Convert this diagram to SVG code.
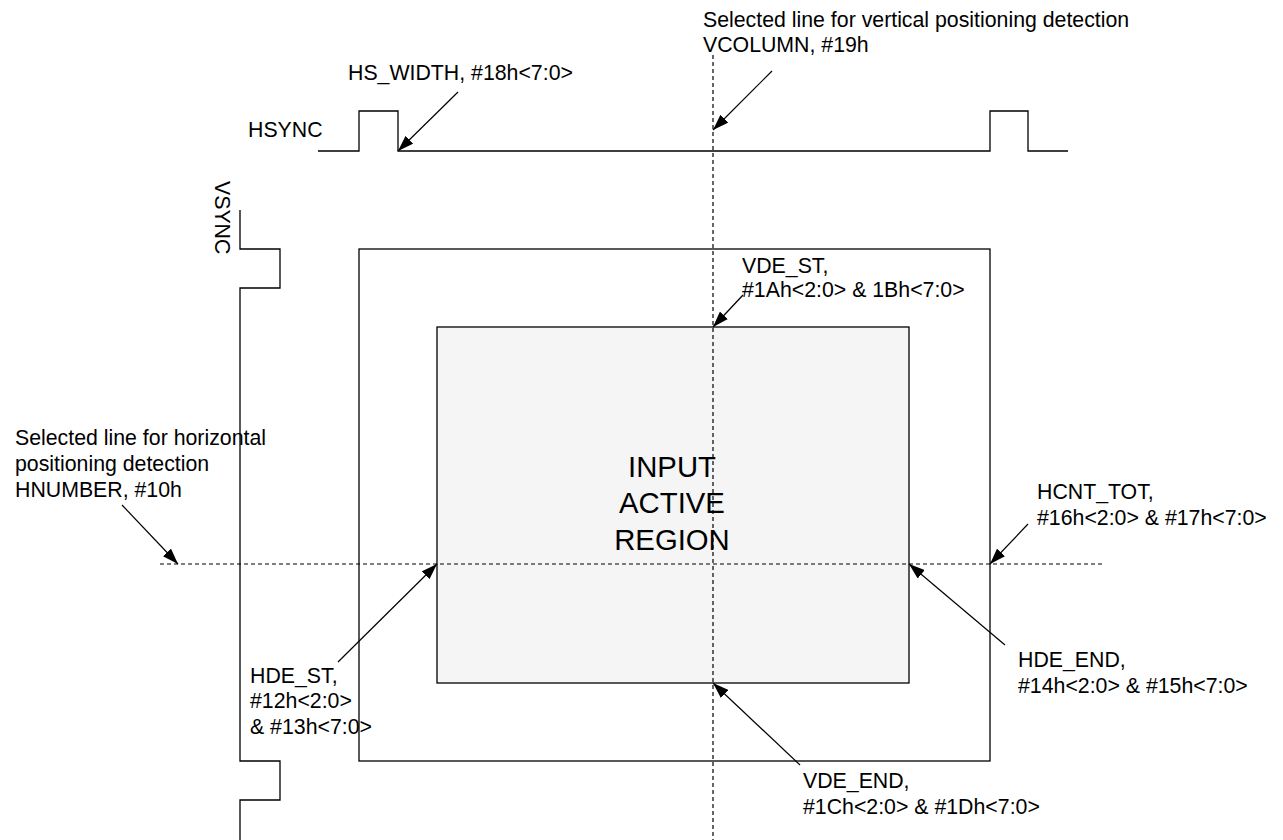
<svg xmlns="http://www.w3.org/2000/svg" width="1283" height="840" viewBox="0 0 1283 840">
<style>
text{font-family:"Liberation Sans",Arial,sans-serif;font-size:21.3px;fill:#000}
.big{font-size:29.3px;text-anchor:middle}
.sig{fill:none;stroke:#000;stroke-width:1.3}
.dash{fill:none;stroke:#000;stroke-width:1.2;stroke-dasharray:4 3}
.arr{fill:none;stroke:#000;stroke-width:1.2;marker-end:url(#ah)}
</style>
<defs>
<marker id="ah" viewBox="0 0 16 11" refX="16" refY="5.5" markerWidth="16" markerHeight="11" markerUnits="userSpaceOnUse" orient="auto">
<path d="M0,0 L16,5.5 L0,11 Z" fill="#000"/>
</marker>
</defs>
<rect width="1283" height="840" fill="#fff"/>
<g id="outer-frame"><rect x="359" y="249" width="631" height="512" class="sig"/></g>
<g id="active-region">
<rect x="437" y="327" width="472" height="356" fill="#f5f5f5" stroke="#000" stroke-width="1.3"/>
<text class="big" x="672" y="477">INPUT</text>
<text class="big" x="672" y="513">ACTIVE</text>
<text class="big" x="672" y="550">REGION</text>
</g>
<g id="hsync">
<path class="sig" d="M318,151 H359 V111 H398 V151 H990 V111 H1028 V151 H1068"/>
<text x="248" y="137">HSYNC</text>
</g>
<g id="vsync">
<path class="sig" d="M240,210 V249 H280 V288 H240 V761 H280 V800 H240 V840"/>
<text transform="translate(215,181) rotate(90)">VSYNC</text>
</g>
<g id="guides">
<line class="dash" x1="713" y1="55" x2="713" y2="840"/>
<line class="dash" x1="160" y1="564" x2="1105" y2="564"/>
</g>
<g id="connectors">
<line class="arr" x1="458" y1="92" x2="398" y2="151"/>
<line class="arr" x1="772" y1="71" x2="713" y2="130"/>
<line class="arr" x1="743" y1="295" x2="713" y2="327"/>
<line class="arr" x1="122" y1="505" x2="178" y2="564"/>
<line class="arr" x1="338" y1="662" x2="437" y2="564"/>
<line class="arr" x1="1028" y1="524" x2="990" y2="564"/>
<line class="arr" x1="1005" y1="645" x2="909" y2="564"/>
<line class="arr" x1="800" y1="765" x2="713" y2="683"/>
</g>
<g id="labels">
<text x="703" y="27">Selected line for vertical positioning detection</text>
<text x="703" y="52">VCOLUMN, #19h</text>
<text x="348" y="80">HS_WIDTH, #18h&lt;7:0&gt;</text>
<text x="742" y="273">VDE_ST,</text>
<text x="742" y="297">#1Ah&lt;2:0&gt; &amp; 1Bh&lt;7:0&gt;</text>
<text x="15" y="445">Selected line for horizontal</text>
<text x="15" y="471">positioning detection</text>
<text x="15" y="497">HNUMBER, #10h</text>
<text x="1037" y="499">HCNT_TOT,</text>
<text x="1037" y="525">#16h&lt;2:0&gt; &amp; #17h&lt;7:0&gt;</text>
<text x="250" y="683">HDE_ST,</text>
<text x="250" y="708">#12h&lt;2:0&gt;</text>
<text x="250" y="734">&amp; #13h&lt;7:0&gt;</text>
<text x="1018" y="667">HDE_END,</text>
<text x="1018" y="693">#14h&lt;2:0&gt; &amp; #15h&lt;7:0&gt;</text>
<text x="803" y="788">VDE_END,</text>
<text x="803" y="814">#1Ch&lt;2:0&gt; &amp; #1Dh&lt;7:0&gt;</text>
</g>
</svg>
